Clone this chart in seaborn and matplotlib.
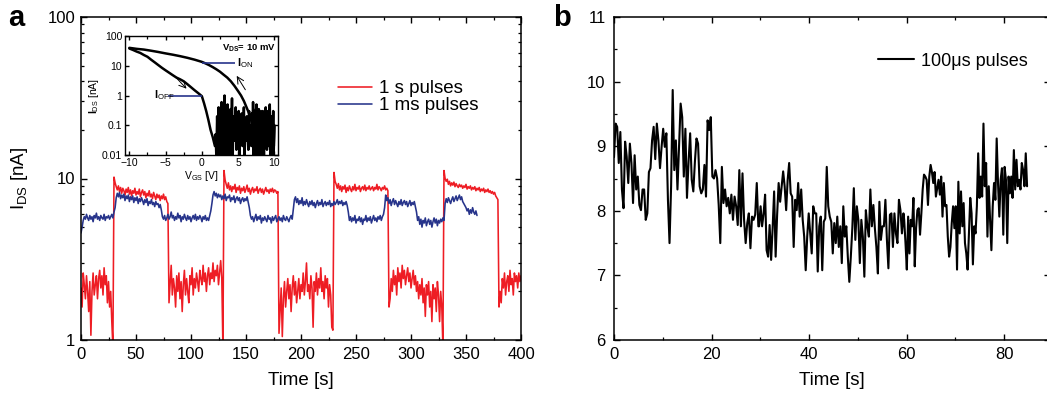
import numpy as np
import pandas as pd
import matplotlib
matplotlib.use("Agg")
import matplotlib.pyplot as plt
import seaborn as sns
from matplotlib.ticker import MultipleLocator, LogLocator, NullFormatter, FixedLocator, FixedFormatter

# ---------------- data ----------------
# panel a: 1 s pulses (one reading per second, 0..400 s)
red_ids = [
    # 0-29 s (low)
    2.1, 1.6, 2.6, 2.2, 1.8, 2.5, 2.0, 1.5, 2.3, 1.07, 2.0, 2.6, 1.9, 2.2, 2.5, 1.8, 2.4, 2.7, 2.1, 2.5,
    1.9, 2.8, 2.2, 2.5, 1.7, 2.3, 1.6, 2.0, 1.3, 0.9,
    # 30-79 s (high)
    10.2, 9.4, 8.9, 8.5, 9.0, 8.3, 8.8, 8.1, 8.7, 8.4, 7.9, 8.6, 8.2, 8.8, 8.0, 8.5, 7.8, 8.4, 8.1, 8.7,
    7.9, 8.3, 8.0, 8.6, 7.7, 8.2, 8.5, 7.9, 8.3, 7.6, 8.1, 7.8, 8.4, 7.7, 8.0, 7.5, 8.2, 7.8, 7.4, 8.0,
    7.6, 7.9, 7.3, 7.8, 7.5, 8.0, 7.4, 7.7, 7.2, 7.0,
    # 80-129 s (low)
    1.7, 2.2, 2.9, 1.9, 2.4, 2.1, 1.6, 2.5, 2.0, 2.6, 1.8, 2.3, 1.5, 2.2, 2.7, 1.9, 2.4, 2.0, 1.7, 2.5,
    2.2, 2.8, 1.9, 2.4, 2.1, 2.6, 2.3, 2.0, 2.7, 2.4, 2.2, 2.9, 2.3, 2.6, 2.0, 2.5, 2.8, 2.2, 2.6, 2.4,
    3.0, 2.3, 2.7, 2.5, 2.9, 2.2, 2.6, 3.1, 2.4, 0.9,
    # 130-179 s (high)
    11.2, 9.8, 9.2, 8.7, 9.4, 8.5, 9.0, 8.3, 8.9, 8.6, 9.2, 8.2, 8.8, 8.5, 9.0, 8.1, 8.7, 8.4, 8.9, 8.2,
    8.6, 9.1, 8.3, 8.7, 8.0, 8.5, 8.8, 8.2, 8.6, 8.4, 8.9, 8.1, 8.5, 8.7, 8.2, 8.6, 8.0, 8.4, 8.8, 8.3,
    8.5, 8.1, 8.6, 8.3, 8.7, 8.2, 8.5, 8.4, 8.1, 8.3,
    # 180-229 s (low)
    1.1, 1.5, 2.1, 1.05, 1.8, 2.3, 1.6, 2.0, 2.4, 1.8, 2.2, 1.5, 2.1, 2.5, 1.9, 2.3, 1.7, 2.0, 2.4, 1.8,
    2.2, 2.0, 2.6, 1.9, 2.3, 3.0, 2.0, 2.2, 1.8, 2.5, 2.1, 1.2, 2.3, 2.0, 2.6, 1.9, 2.4, 2.1, 2.8, 2.0,
    2.3, 1.8, 2.5, 2.1, 2.4, 1.6, 2.2, 1.9, 1.2, 1.15,
    # 230-279 s (high)
    10.9, 9.6, 9.2, 8.7, 9.3, 8.5, 9.0, 8.3, 8.9, 8.6, 9.1, 8.2, 8.8, 8.4, 9.0, 8.6, 8.3, 8.9, 8.5, 9.2,
    8.4, 8.8, 8.6, 9.0, 8.3, 8.7, 8.9, 8.5, 9.1, 8.4, 8.8, 8.6, 9.0, 8.5, 8.7, 8.9, 8.4, 8.8, 8.6, 9.2,
    8.5, 8.9, 8.7, 8.4, 8.8, 8.6, 9.0, 8.5, 8.7, 8.4,
    # 280-329 s (low)
    1.6, 1.8, 2.4, 2.0, 2.7, 2.2, 2.5, 1.9, 2.8, 2.3, 2.6, 2.1, 2.9, 2.4, 2.7, 2.2, 2.5, 2.8, 2.3, 2.6,
    2.1, 2.4, 2.7, 2.2, 2.5, 2.0, 2.3, 1.8, 2.2, 1.9, 2.4, 1.7, 2.1, 1.4, 2.2, 1.9, 2.3, 1.6, 2.0, 1.3,
    2.2, 1.8, 2.1, 1.5, 2.3, 1.9, 1.3, 2.0, 1.6, 0.9,
    # 330-379 s (high)
    11.2, 10.0, 9.6, 9.9, 9.2, 9.6, 9.0, 9.4, 9.1, 9.5, 8.9, 9.3, 9.0, 8.8, 9.2, 8.9, 9.1, 8.7, 9.0, 8.8,
    9.2, 8.6, 8.9, 8.7, 9.0, 8.5, 8.8, 8.6, 8.9, 8.4, 8.7, 8.5, 8.8, 8.3, 8.6, 8.4, 8.7, 8.2, 8.5, 8.3,
    8.6, 8.2, 8.4, 8.1, 8.3, 8.0, 8.2, 7.8, 7.6, 7.4,
    # 380-400 s (low)
    1.6, 2.0, 1.7, 2.4, 2.1, 2.6, 1.9, 2.3, 2.5, 2.0, 2.7, 2.2, 2.4, 1.9, 2.6, 2.3, 2.5, 2.1, 2.6, 2.3, 2.5,
]
red_sample_s = 1.0

# panel a: 1 ms pulses (one reading per second, 0..360 s)
blue_ids = [
    4.6, 5.0, 5.5, 5.8, 5.6, 6.0, 5.7, 5.5, 5.9, 5.6, 5.8, 5.4, 5.9, 5.7, 6.1, 5.6, 5.8, 5.5, 5.9, 5.7,
    5.6, 6.0, 5.5, 5.8, 5.7, 5.9, 5.6, 5.8, 6.0, 5.7, 6.2, 6.6,
    7.6, 8.1, 7.7, 8.2, 7.5, 7.9, 7.6, 8.0, 7.3, 7.8, 7.5, 7.9, 7.2, 7.7, 7.4, 7.8, 7.1, 7.6, 7.3, 7.7,
    7.0, 7.5, 7.2, 7.6, 7.3, 6.9, 7.4, 7.1, 7.5, 6.8, 7.2, 7.0, 7.4, 6.9, 7.1, 6.7, 7.2, 6.9, 7.0, 6.6,
    6.9, 6.4,
    5.8, 5.6, 5.9, 5.5, 5.7, 6.0, 5.6, 5.8, 6.2, 5.7, 5.9, 5.5, 5.8, 5.6, 6.1, 5.7, 5.9, 5.4, 5.8, 5.6,
    6.0, 5.7, 5.5, 5.9, 5.6, 5.8, 5.4, 5.7, 5.9, 5.6, 6.0, 5.5, 5.8, 5.6, 5.9, 5.7, 5.4, 5.8, 5.6, 5.9,
    5.5, 5.7, 5.5, 5.9, 6.3, 7.0,
    7.9, 8.3, 7.8, 8.1, 7.6, 8.0, 7.7, 7.9, 7.4, 7.8, 7.5, 8.0, 7.3, 7.7, 7.6, 7.9, 7.2, 7.6, 7.4, 7.8,
    7.1, 7.5, 7.7, 7.3, 7.6, 7.0, 7.4, 7.6, 7.2, 7.5, 7.3, 7.7, 7.1, 6.6,
    5.9, 5.6, 5.8, 5.4, 5.7, 6.0, 5.5, 5.8, 5.6, 5.9, 5.3, 5.7, 5.5, 5.8, 5.6, 5.4, 5.9, 5.6, 5.7, 5.3,
    5.8, 5.5, 5.7, 5.9, 5.4, 5.6, 5.8, 5.5, 5.7, 5.4, 5.9, 5.6, 5.5, 5.8, 5.6, 5.4, 5.7, 5.9, 5.6, 6.4,
    7.4, 7.7, 7.1, 7.5, 6.9, 7.3, 7.0, 7.6, 6.8, 7.2, 6.9, 7.4, 7.0, 6.7, 7.2, 6.9, 7.3, 6.8, 7.1, 6.6,
    7.0, 7.3, 6.8, 7.1, 6.9, 7.4, 6.7, 7.0, 7.2, 6.8, 7.1, 6.9, 7.3, 6.7, 7.0, 6.8, 7.2, 6.9, 7.1, 7.4,
    6.9, 7.2, 7.0, 7.3, 6.8, 7.1, 6.9, 7.2, 6.8, 6.2,
    5.5, 5.8, 5.4, 5.7, 5.5, 5.9, 5.3, 5.6, 5.5, 5.8, 5.4, 5.7, 5.2, 5.6, 5.5, 5.9, 5.4, 5.7, 5.5, 5.8,
    5.3, 5.6, 5.9, 5.5, 5.7, 5.4, 5.8, 5.6, 5.9, 5.5, 5.8, 6.0, 6.6,
    7.9, 7.3, 7.6, 7.0, 7.4, 6.8, 7.2, 7.5, 6.9, 7.3, 7.0, 6.7, 7.2, 6.9, 7.4, 6.8, 7.1, 7.3, 6.9, 7.2,
    6.7, 7.0, 7.3, 6.8, 7.1, 6.9, 7.2, 6.7, 6.2,
    5.5, 5.8, 5.2, 5.6, 5.0, 5.5, 5.3, 5.7, 5.1, 5.4, 5.6, 5.2, 5.5, 5.0, 5.4, 5.7, 5.3, 5.6, 5.1, 5.5,
    5.3, 5.6, 5.4, 5.7, 5.5,
    7.0, 7.5, 7.1, 7.6, 7.3, 7.0, 7.4, 7.7, 7.2, 7.5, 7.8, 7.3, 7.6, 7.9, 7.4, 7.7, 7.2, 7.0, 6.8, 6.6,
    6.3, 6.5, 6.0, 6.4, 6.1, 6.6, 6.2, 6.0, 6.3, 5.9,
]
blue_sample_s = 1.0

# panel b: 100 us pulses, three read-off segments (start, end in s)
b_seg_bounds = [(0.0, 29.6), (29.75, 59.35), (59.5, 84.7)]
b_seg1 = [
    8.83, 9.35, 9.3, 8.74, 9.22, 8.33, 8.04, 9.07, 8.84, 8.43,
    9.04, 8.74, 8.12, 8.86, 8.33, 8.53, 8.09, 8.01, 8.33, 8.33,
    7.86, 7.96, 8.6, 8.66, 9.09, 9.3, 8.8, 9.35, 9.09, 8.66,
    8.99, 9.27, 8.99, 9.2, 8.17, 7.5, 8.38, 9.87, 8.63, 9.09,
    8.33, 8.99, 9.66, 9.45, 8.53, 9.27, 8.2, 8.76, 9.2, 8.48,
    8.3, 8.76, 9.12, 9.04, 8.38, 8.27, 8.33, 8.71, 8.22, 9.4,
    9.25, 9.45, 8.53, 8.5, 8.63, 8.5, 8.09, 7.5, 8.68, 8.12,
    8.33, 8.07, 8.2, 7.96, 8.25, 7.86, 8.22, 8.07, 7.78, 8.63,
    7.76, 8.58, 7.86, 7.5, 7.81, 7.96, 7.42, 7.91, 7.86, 7.94, 8.43, 7.76,
]
b_seg2 = [
    7.76, 8.07, 7.76, 7.96, 8.25, 7.39, 7.29, 7.78, 7.24, 7.73,
    8.3, 7.29, 7.94, 8.43, 8.14, 8.38, 8.61, 8.38, 8.01, 8.48,
    8.74, 8.27, 8.22, 7.44, 8.17, 8.01, 8.43, 7.91, 8.33, 7.86,
    7.6, 7.08, 7.6, 7.96, 7.65, 7.34, 8.07, 7.96, 7.96, 7.06,
    7.76, 7.91, 7.08, 7.83, 7.88, 8.68, 8.07, 7.91, 7.83, 7.34,
    7.81, 7.5, 7.91, 7.44, 7.76, 7.19, 8.07, 7.6, 7.76, 7.29,
    6.9, 7.29, 7.73, 8.35, 7.55, 8.07, 7.86, 7.19, 7.86, 7.6,
    6.98, 8.01, 7.76, 7.6, 8.33, 7.76, 8.09, 7.73, 7.44, 7.03,
    8.14, 7.55, 7.76, 7.76, 8.17, 7.55, 7.11, 7.94, 7.96, 7.44,
    7.96, 7.65, 7.5, 8.17, 8.01, 7.65, 7.96,
]
b_seg3 = [
    7.86, 7.5, 7.09, 7.91, 7.34, 7.86, 7.76, 8.2, 7.14, 7.73,
    8.01, 8.04, 7.63, 7.96, 8.33, 8.56, 8.53, 8.48, 8.09, 8.53,
    8.71, 8.6, 8.43, 8.6, 8.22, 8.35, 8.48, 8.25, 8.53, 7.91,
    8.43, 8.07, 8.09, 7.6, 7.29, 7.44, 7.81, 8.07, 7.73, 8.07,
    7.09, 8.45, 7.65, 8.3, 7.76, 8.12, 7.5, 7.34, 7.09, 7.65,
    8.2, 7.96, 7.17, 7.76, 7.65, 8.07, 8.89, 8.2, 8.53, 8.22,
    9.35, 8.38, 8.74, 7.6, 8.38, 7.86, 7.39, 8.07, 8.43, 8.17,
    9.12, 8.43, 7.91, 8.48, 8.66, 7.63, 8.68, 8.48, 7.5, 8.53,
    8.27, 8.53, 8.2, 8.94, 8.33, 8.79, 8.38, 8.48, 8.33, 8.74,
    8.63, 8.38, 8.89, 8.38,
]

# inset: transfer curve (hysteresis)
inset_fwd_v = [-10, -9.5, -9, -8.5, -8, -7.5, -7, -6.5, -6, -5.5, -5, -4.5, -4, -3.5, -3,
               -2.5, -2, -1.5, -1, -0.5, 0, 0.3, 0.6, 0.9, 1.2, 1.5, 1.8]
inset_fwd_i = [38, 34, 30, 27, 23, 20, 16, 13, 10.5, 8.5, 7.0, 5.8, 4.8, 4.0, 3.5,
               3.0, 2.4, 1.9, 1.5, 1.2, 0.95, 0.55, 0.3, 0.15, 0.07, 0.04, 0.02]
inset_noise_fwd = [0.05, 0.008, 0.2, 0.02, 0.4, 0.01, 0.15, 0.005, 0.6, 0.03, 0.3, 0.008,
                   1.0, 0.04, 0.25, 0.01, 0.5, 0.02, 0.12, 0.006, 0.35, 0.05, 0.8, 0.01,
                   0.2, 0.03, 0.09, 0.4, 0.015, 0.15, 0.05, 0.3, 0.008, 0.1, 0.04, 0.25,
                   0.02, 0.07, 0.4, 0.01, 0.12, 0.03, 0.2, 0.06, 0.015, 0.3, 0.04, 0.1,
                   0.02, 0.08, 0.25, 0.006, 0.15, 0.03, 0.35, 0.01, 0.09, 0.2, 0.005, 0.12,
                   0.04, 0.3, 0.01, 0.18, 0.05, 0.008, 0.22, 0.03, 0.1, 0.015, 0.28, 0.02,
                   0.06, 0.15, 0.007, 0.2, 0.04, 0.12, 0.01, 0.09]
inset_noise_rev = [0.1, 0.02, 0.3, 0.05, 0.15, 0.008, 0.2, 0.04, 0.5, 0.03, 0.12, 0.3,
                   0.02, 0.25, 0.06, 0.4, 0.1, 0.2, 0.15, 0.08, 0.3, 0.01, 0.18, 0.05,
                   0.25, 0.009, 0.14, 0.35, 0.03, 0.2, 0.07, 0.5, 0.02, 0.16, 0.04, 0.3,
                   0.12, 0.6, 0.08, 0.25]
inset_noise_fwd_span = (1.9, 10.0)
inset_noise_rev_span = (10.0, 6.9)
inset_rev_v = [7.0, 6.6, 6.2, 5.8, 5.4, 5.0, 4.5, 4.0, 3.5, 3.0, 2.5, 2.0, 1.5, 1.0, 0.5, 0,
               -1, -2, -3, -4, -5, -6, -7, -8, -9, -10]
inset_rev_i = [0.1, 0.22, 0.38, 0.65, 1.0, 1.4, 2.1, 3.0, 4.0, 5.0, 6.3, 7.6, 9.0, 10.5, 12.0, 13.5,
               16, 18.5, 21, 23.5, 26, 29, 32, 35, 37, 40]
i_on_level, i_on_span = 12.5, (0.0, 4.6)
i_off_level, i_off_span = 1.0, (-4.7, 0.0)

RED = "#EE1D24"
BLUE = "#27348B"

# ---------------- style ----------------
sns.set_theme(style="ticks")
plt.rcParams.update({
    "font.family": ["Liberation Sans", "DejaVu Sans"],
    "mathtext.fontset": "custom",
    "mathtext.rm": "Liberation Sans",
    "mathtext.it": "Liberation Sans:italic",
    "mathtext.bf": "Liberation Sans:bold",
    "xtick.direction": "in", "ytick.direction": "in",
    "xtick.top": True, "ytick.right": True,
    "axes.linewidth": 1.1,
    "xtick.major.width": 1.0, "ytick.major.width": 1.0,
    "xtick.minor.width": 0.9, "ytick.minor.width": 0.9,
    "xtick.major.size": 4.5, "ytick.major.size": 4.5,
    "xtick.minor.size": 2.5, "ytick.minor.size": 2.5,
    "axes.edgecolor": "black", "xtick.color": "black", "ytick.color": "black",
    "text.color": "black", "axes.labelcolor": "black",
})

W, H = 1047, 398
fig = plt.figure(figsize=(W / 100, H / 100), dpi=100)
fig.patch.set_facecolor("white")


def px_axes(l, t, r, b):
    return fig.add_axes([l / W, (H - b) / H, (r - l) / W, (b - t) / H])


# ---------------- panel a ----------------
ax = px_axes(81, 17, 521, 340)
red_t = np.arange(len(red_ids)) * red_sample_s
blue_t = np.arange(len(blue_ids)) * blue_sample_s
sns.lineplot(x=red_t, y=red_ids, ax=ax, color=RED, lw=1.15, estimator=None, sort=False,
             label="1 s pulses")
sns.lineplot(x=blue_t, y=blue_ids, ax=ax, color=BLUE, lw=1.15, estimator=None, sort=False,
             label="1 ms pulses")
ax.set_yscale("log")
ax.set_ylim(1, 100)
ax.set_xlim(0, 400)
ax.xaxis.set_major_locator(MultipleLocator(50))
ax.xaxis.set_minor_locator(MultipleLocator(25))
ax.yaxis.set_major_locator(FixedLocator([1, 10, 100]))
ax.yaxis.set_major_formatter(FixedFormatter(["1", "10", "100"]))
ax.yaxis.set_minor_locator(LogLocator(base=10, subs=np.arange(2, 10)))
ax.yaxis.set_minor_formatter(NullFormatter())
ax.tick_params(which="both", top=True, right=True, labelsize=12)
ax.tick_params(axis="x", pad=5)
ax.tick_params(axis="y", pad=4)
ax.set_xlabel("Time [s]", fontsize=13.5)
ax.xaxis.set_label_coords(0.5, -0.10)
ax.xaxis.label.set_va("top")
ax.set_ylabel(r"I$_\mathregular{DS}$ [nA]", fontsize=13.5)
ax.yaxis.set_label_coords(-0.115, 0.5)
for s in ax.spines.values():
    s.set_visible(True)
ax.legend(loc="upper left", bbox_to_anchor=(0.584, 0.805), frameon=False, fontsize=13.5,
          handlelength=1.8, handletextpad=0.4, labelspacing=0.0, borderpad=0, borderaxespad=0)

# inset
axi = px_axes(125, 36, 278, 155)
fwd_noise_v = np.linspace(*inset_noise_fwd_span, len(inset_noise_fwd))
rev_noise_v = np.linspace(*inset_noise_rev_span, len(inset_noise_rev))
sns.lineplot(x=inset_fwd_v + list(fwd_noise_v), y=inset_fwd_i + inset_noise_fwd, ax=axi,
             color="black", lw=1.8, estimator=None, sort=False)
sns.lineplot(x=list(rev_noise_v) + inset_rev_v, y=inset_noise_rev + inset_rev_i, ax=axi,
             color="black", lw=1.8, estimator=None, sort=False)
axi.hlines(i_on_level, *i_on_span, color=BLUE, lw=1.2)
axi.hlines(i_off_level, *i_off_span, color=BLUE, lw=1.2)
axi.set_yscale("log")
axi.set_ylim(0.01, 100)
axi.set_xlim(-10.6, 10.5)
axi.xaxis.set_major_locator(MultipleLocator(5))
axi.xaxis.set_minor_locator(MultipleLocator(2.5))
axi.yaxis.set_major_locator(FixedLocator([0.01, 0.1, 1, 10, 100]))
axi.yaxis.set_major_formatter(FixedFormatter(["0.01", "0.1", "1", "10", "100"]))
axi.yaxis.set_minor_locator(FixedLocator([]))
axi.tick_params(which="both", top=True, right=True, labelsize=7.5, pad=2)
axi.tick_params(which="major", length=3)
axi.tick_params(which="minor", length=2)
axi.set_xlabel(r"V$_\mathregular{GS}$ [V]", fontsize=7.5, labelpad=1)
axi.set_ylabel(r"$\mathbf{I}_\mathregular{DS}$ [nA]", fontsize=7.5, labelpad=1)
for s in axi.spines.values():
    s.set_visible(True)
    s.set_linewidth(1.0)
axi.text(2.8, 40, r"$\mathbf{V_{DS}}$= 10 mV", fontsize=6.8, fontweight="bold", va="center")
axi.text(4.9, 12.5, r"$\mathbf{I}_\mathregular{ON}$", fontsize=8, va="center")
axi.text(-6.6, 1.0, r"$\mathbf{I}_\mathregular{OFF}$", fontsize=8, va="center")
axi.annotate("", xy=(-1.85, 1.45), xytext=(-3.9, 4.9),
             arrowprops=dict(arrowstyle="->", lw=0.7, color="black"))
axi.annotate("", xy=(4.6, 5.5), xytext=(6.2, 1.3),
             arrowprops=dict(arrowstyle="->", lw=0.7, color="black"))

# ---------------- panel b ----------------
axb = px_axes(614, 17, 1050, 340)
b_t = np.concatenate([np.linspace(a, b, len(s)) for (a, b), s in
                      zip(b_seg_bounds, [b_seg1, b_seg2, b_seg3])])
b_v = b_seg1 + b_seg2 + b_seg3
sns.lineplot(x=b_t, y=b_v, ax=axb, color="black", lw=1.5, estimator=None, sort=False,
             label="100\u03bcs pulses")
axb.set_xlim(0, 89.4)
axb.set_ylim(6, 11)
axb.xaxis.set_major_locator(MultipleLocator(20))
axb.xaxis.set_minor_locator(MultipleLocator(10))
axb.yaxis.set_major_locator(MultipleLocator(1))
axb.yaxis.set_minor_locator(MultipleLocator(0.5))
axb.tick_params(which="both", top=True, right=True, labelsize=12)
axb.tick_params(axis="x", pad=5)
axb.tick_params(axis="y", pad=6)
axb.set_xlabel("Time [s]", fontsize=13.5)
axb.xaxis.set_label_coords(0.5, -0.10)
axb.xaxis.label.set_va("top")
axb.set_ylabel("")
for s in axb.spines.values():
    s.set_visible(True)
axb.legend(loc="upper left", bbox_to_anchor=(0.605, 0.89), frameon=False, fontsize=13,
           handlelength=2.0, handletextpad=0.4, borderpad=0, borderaxespad=0)

# panel letters
fig.text(8 / W, 1 - 4 / H, "a", fontsize=21, fontweight="bold", va="top", ha="left")
fig.text(553 / W, 1 - 4 / H, "b", fontsize=21, fontweight="bold", va="top", ha="left")

fig.savefig("out.png", dpi=100, facecolor="white")
